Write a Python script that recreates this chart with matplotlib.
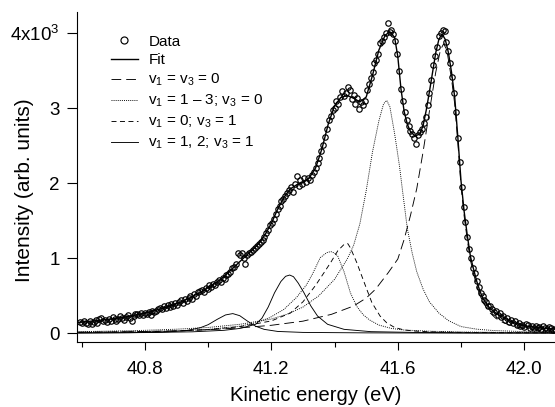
import numpy as np
import matplotlib
matplotlib.use("Agg")
import matplotlib.pyplot as plt

plt.rcParams["font.family"] = ["Liberation Sans", "DejaVu Sans"]
plt.rcParams["mathtext.fontset"] = "custom"
plt.rcParams["mathtext.rm"] = "Liberation Sans"
plt.rcParams["mathtext.it"] = "Liberation Sans"
plt.rcParams["lines.scale_dashes"] = False

# measured points: energy grid of the spectrometer
e_start = 40.596
e_step = 0.006
counts = [
    150, 138, 165, 142, 128, 160, 118, 150, 175, 140,
    185, 205, 160, 178, 150, 196, 170, 215, 185, 168,
    190, 225, 205, 180, 212, 240, 198, 170, 230, 255,
    262, 240, 275, 250, 268, 255, 278, 245, 300, 285,
    300, 325, 342, 318, 360, 335, 372, 350, 390, 365,
    405, 380, 420, 440, 410, 455, 430, 470, 495, 462,
    520, 495, 545, 560, 580, 550, 600, 590, 640, 618,
    660, 640, 690, 705, 685, 740, 730, 775, 790, 820,
    865, 890, 930, 1065, 1050, 1075, 1005, 925, 1050, 1065,
    1090, 1110, 1135, 1160, 1190, 1215, 1245, 1290, 1335, 1380,
    1440, 1475, 1530, 1590, 1660, 1700, 1760, 1790, 1830, 1870,
    1905, 1950, 1880, 1990, 2100, 1960, 2040, 1995, 2065, 2020,
    2070, 2050, 2110, 2150, 2200, 2270, 2340, 2430, 2510, 2620,
    2720, 2840, 2900, 2980, 3010, 3100, 3060, 3150, 3230, 3170,
    3200, 3280, 3250, 3120, 3180, 3060, 3140, 2990, 3080, 3050,
    3100, 3250, 3330, 3400, 3480, 3600, 3650, 3720, 3870, 3900,
    3950, 4000, 4140, 4020, 4050, 3990, 3900, 3730, 3500, 3260,
    3100, 2950, 2850, 2760, 2700, 2660, 2610, 2530, 2640, 2680,
    2720, 2800, 2880, 3050, 3210, 3380, 3580, 3700, 3820, 3960,
    4000, 4050, 4030, 3880, 3770, 3600, 3420, 3200, 2950, 2600,
    2290, 1950, 1690, 1490, 1280, 1120, 1000, 870, 800, 700,
    620, 540, 500, 440, 420, 370, 360, 330, 290, 300,
    240, 270, 220, 235, 180, 205, 150, 175, 135, 160,
    110, 140, 95, 115, 80, 120, 105, 70, 95, 75,
    95, 70, 85, 60, 100, 75, 55, 80, 65, 50,
    60,
]
energy = e_start + e_step * np.arange(len(counts))

fit_e = [40.59, 40.62, 40.66, 40.70, 40.74, 40.78, 40.82, 40.86, 40.90, 40.94,
         40.98, 41.02, 41.04, 41.06, 41.08, 41.10, 41.12, 41.14, 41.16, 41.18,
         41.20, 41.22, 41.24, 41.26, 41.28, 41.30, 41.32, 41.34, 41.36, 41.38,
         41.40, 41.42, 41.44, 41.46, 41.48, 41.50, 41.52, 41.54, 41.56, 41.575,
         41.59, 41.60, 41.61, 41.62, 41.63, 41.64, 41.655, 41.67, 41.68, 41.69,
         41.70, 41.71, 41.72, 41.73, 41.74, 41.75, 41.76, 41.77, 41.78, 41.79,
         41.80, 41.81, 41.82, 41.83, 41.84, 41.85, 41.86, 41.87, 41.89, 41.91,
         41.93, 41.96, 42.00, 42.05, 42.10]
fit_y = [145, 158, 175, 195, 220, 250, 290, 338, 395, 468,
         556, 660, 722, 795, 875, 955, 1035, 1110, 1195, 1315,
         1465, 1655, 1815, 1925, 1980, 2010, 2075, 2205, 2460, 2790,
         3035, 3145, 3170, 3135, 3085, 3150, 3440, 3775, 3975, 4020,
         3945, 3690, 3260, 2960, 2790, 2690, 2630, 2660, 2770, 2975,
         3220, 3480, 3740, 3920, 3990, 3920, 3745, 3480, 3150, 2610,
         2030, 1620, 1300, 1020, 850, 690, 560, 460, 340, 270,
         222, 152, 100, 72, 55]

# v1 = v3 = 0
c00_e = [40.59, 40.70, 40.80, 40.90, 41.00, 41.10, 41.20, 41.30, 41.39, 41.46,
         41.50, 41.53, 41.57, 41.60, 41.62, 41.64, 41.66, 41.68, 41.70, 41.72,
         41.735, 41.745, 41.755, 41.77, 41.78, 41.79, 41.80, 41.81, 41.82, 41.83,
         41.84, 41.85, 41.86, 41.87, 41.89, 41.91, 41.93, 41.96, 42.00, 42.05, 42.10]
c00_y = [14, 18, 24, 33, 48, 72, 107, 162, 253, 364,
         470, 590, 810, 990, 1250, 1570, 1930, 2420, 2960, 3480,
         3780, 3860, 3780, 3390, 3060, 2540, 1960, 1560, 1240, 970,
         790, 630, 505, 410, 280, 200, 150, 100, 62, 38, 26]

# v1 = 1 - 3; v3 = 0 (two visible peaks)
c1a_e = [40.59, 40.70, 40.80, 40.90, 41.00, 41.10, 41.20, 41.25, 41.30, 41.35,
         41.40, 41.44, 41.46, 41.48, 41.50, 41.52, 41.54, 41.555, 41.565, 41.575,
         41.59, 41.605, 41.615, 41.63, 41.645, 41.66, 41.68, 41.70, 41.73, 41.76,
         41.80, 41.85, 41.90, 42.00, 42.10]
c1a_y = [22, 30, 40, 55, 78, 120, 190, 255, 350, 500,
         720, 990, 1170, 1460, 1900, 2420, 2830, 3060, 3105, 3020,
         2660, 2240, 1900, 1400, 1080, 820, 590, 420, 270, 170,
         90, 55, 38, 22, 15]
c1b_e = [40.59, 40.70, 40.80, 40.90, 41.00, 41.10, 41.15, 41.195, 41.24, 41.28,
         41.31, 41.33, 41.355, 41.375, 41.388, 41.40, 41.41, 41.43, 41.45, 41.47,
         41.49, 41.51, 41.54, 41.58, 41.62, 41.70, 41.80, 41.95, 42.10]
c1b_y = [14, 18, 24, 34, 52, 95, 140, 209, 320, 480,
         640, 790, 1010, 1075, 1090, 1070, 1030, 820, 540, 360,
         250, 180, 110, 65, 44, 28, 18, 11, 8]

# v1 = 0; v3 = 1
c01_e = [40.59, 40.70, 40.80, 40.90, 41.00, 41.10, 41.20, 41.26, 41.30, 41.34,
         41.37, 41.39, 41.41, 41.43, 41.442, 41.45, 41.47, 41.486, 41.502, 41.518,
         41.544, 41.565, 41.59, 41.62, 41.65, 41.70, 41.80, 41.95, 42.10]
c01_y = [12, 16, 21, 30, 50, 88, 165, 270, 420, 640,
         830, 960, 1100, 1185, 1195, 1140, 945, 765, 585, 410,
         230, 140, 78, 45, 31, 20, 12, 8, 6]

# v1 = 1, 2; v3 = 1 (two peaks)
c11a_e = [40.59, 40.80, 40.95, 41.05, 41.10, 41.15, 41.17, 41.19, 41.21, 41.23,
          41.245, 41.258, 41.27, 41.285, 41.303, 41.325, 41.346, 41.378, 41.43, 41.515,
          41.65, 41.85, 42.10]
c11a_y = [5, 10, 20, 40, 65, 120, 200, 350, 540, 690,
          760, 777, 755, 670, 542, 364, 231, 120, 53, 22,
          12, 7, 5]
c11b_e = [40.59, 40.75, 40.85, 40.93, 40.976, 41.00, 41.029, 41.055, 41.078, 41.10,
          41.124, 41.15, 41.177, 41.22, 41.30, 41.50, 41.80, 42.10]
c11b_y = [4, 8, 15, 35, 76, 115, 187, 245, 263, 235,
          164, 95, 53, 25, 12, 6, 3, 2]

fig = plt.figure(figsize=(5.55, 4.07), dpi=100)
ax = fig.add_axes([0.1387, 0.1604, 0.8613, 0.8101])

lw_c = 0.65
ax.plot(c00_e, c00_y, color="black", lw=lw_c, dashes=(7, 3.6), label=r"v$_1$ = v$_3$ = 0")
ax.plot(c1a_e, c1a_y, color="black", lw=lw_c, dashes=(0.7, 0.8), label=r"v$_1$ = 1 – 3; v$_3$ = 0")
ax.plot(c1b_e, c1b_y, color="black", lw=lw_c, dashes=(0.7, 0.8))
ax.plot(c01_e, c01_y, color="black", lw=lw_c, dashes=(3.6, 2.5), label=r"v$_1$ = 0; v$_3$ = 1")
ax.plot(c11a_e, c11a_y, color="black", lw=lw_c, label=r"v$_1$ = 1, 2; v$_3$ = 1")
ax.plot(c11b_e, c11b_y, color="black", lw=lw_c)
ax.plot(fit_e, fit_y, color="black", lw=1.0, label="Fit")
ax.plot(energy, counts, ls="none", marker="o", ms=3.9, mfc="none", mec="black", mew=0.85, label="Data")

ax.set_xlim(40.5851, 42.0973)
ax.set_ylim(-112, 4284)

ax.spines["top"].set_visible(False)
ax.spines["right"].set_visible(False)
ax.spines["left"].set_linewidth(0.8)
ax.spines["bottom"].set_linewidth(0.8)

ax.set_xticks([40.8, 41.2, 41.6, 42.0])
ax.set_xticklabels(["40.8", "41.2", "41.6", "42.0"])
ax.set_xticks([40.6, 41.0, 41.4, 41.8], minor=True)
ax.set_yticks([0, 1000, 2000, 3000, 4000])
ax.set_yticklabels(["0", "1", "2", "3", r"4x10$^3$"])
ax.tick_params(axis="x", which="major", direction="out", length=5.8, width=0.8, labelsize=13.5, pad=8)
ax.tick_params(axis="x", which="minor", direction="out", length=3.6, width=0.8)
ax.tick_params(axis="y", which="major", direction="out", length=7.5, width=0.8, labelsize=13.5, pad=5)

ax.set_xlabel("Kinetic energy (eV)", fontsize=14.5)
ax.set_ylabel("Intensity (arb. units)", fontsize=15)
ax.xaxis.set_label_coords(0.5, -0.135)
ax.yaxis.set_label_coords(-0.09, 0.46)

handles, labels = ax.get_legend_handles_labels()
order = [5, 4, 0, 1, 2, 3]
leg = ax.legend([handles[i] for i in order], [labels[i] for i in order],
                loc="upper left", bbox_to_anchor=(0.071, 0.931), frameon=False,
                fontsize=11, handlelength=1.75, handletextpad=0.7, labelspacing=0.3,
                borderpad=0, borderaxespad=0, numpoints=1, markerscale=1.3)

fig.savefig("out.png", dpi=100)
